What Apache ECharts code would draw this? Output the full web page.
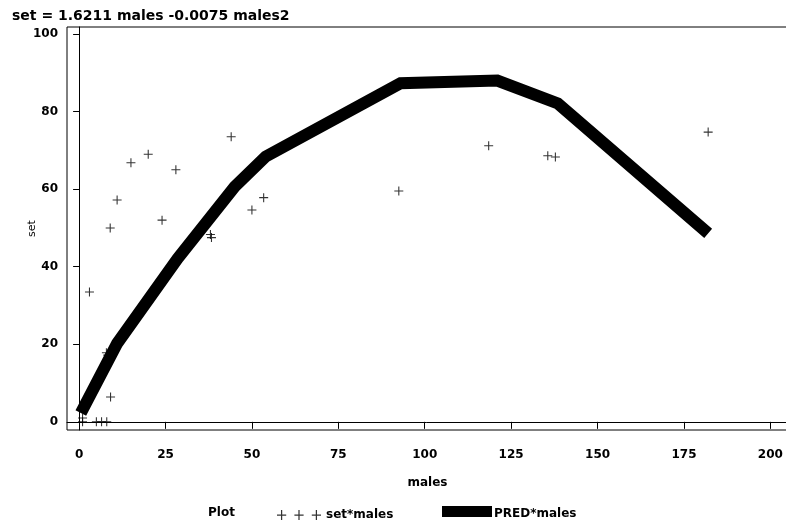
<!DOCTYPE html>
<html>
<head>
<meta charset="utf-8">
<script src="https://cdn.jsdelivr.net/npm/echarts@6/dist/echarts.min.js"></script>
<style>html,body{margin:0;padding:0;background:#fff}#c{width:786px;height:523px}</style>
</head>
<body>
<div id="c"></div>
<script>
// observed data (set vs males)
var malesObs = [1, 1, 5, 6.5, 8, 3, 7.9, 8.3, 9.1, 9, 11, 15, 20, 24, 28, 38, 38.3, 44, 50, 53.4, 92.5, 118.5, 135.6, 137.8, 182];
var setObs   = [1, 0, 0, 0, 0, 33.5, 17.8, 17.2, 6.4, 50, 57.2, 66.8, 69, 52, 65, 48.3, 47.5, 73.5, 54.6, 57.8, 59.5, 71.2, 68.6, 68.3, 74.7];
// predicted line vertices
var malesPred = [0.5, 11, 28.5, 45, 54, 93, 121, 138.5, 182];
var setPred   = [2.3, 20.2, 42.1, 60.6, 68.4, 87.3, 88.0, 82.1, 48.6];
// tick labels
var xTicks = [0, 25, 50, 75, 100, 125, 150, 175, 200];
var yTicks = [0, 20, 40, 60, 80, 100];
var titleText = 'set = 1.6211 males -0.0075 males2';

var FONT = 'DejaVu Sans';
var obs = malesObs.map(function (m, i) { return [m, setObs[i]]; });
var pred = malesPred.map(function (m, i) { return [m, setPred[i]]; });
var plusPath = 'path://M0,4.4h10v1.2h-10z M4.4,0h1.2v10h-1.2z';
var threePlus = 'path://M0,4.4h9v1.2h-9z M3.9,0h1.2v9.9h-1.2z M17,4.4h9v1.2h-9z M20.9,0h1.2v9.9h-1.2z M34,4.4h9v1.2h-9z M37.9,0h1.2v9.9h-1.2z';

var chart = echarts.init(document.getElementById('c'), null, {renderer: 'canvas'});
chart.setOption({
  animation: false,
  backgroundColor: '#fff',
  title: {
    text: titleText, left: 7, top: 4,
    textStyle: {fontFamily: FONT, fontWeight: 'bold', fontSize: 14, color: '#000'}
  },
  grid: {left: 67, top: 27, right: -2, bottom: 93, show: true, borderColor: '#000', borderWidth: 1, outerBoundsMode: 'none'},
  xAxis: {
    type: 'value', min: -3.5, max: 205.1,
    name: 'males', nameLocation: 'middle', nameGap: 47, nameMoveOverlap: false,
    nameTextStyle: {fontFamily: FONT, fontWeight: 'bold', fontSize: 12, color: '#000'},
    axisLine: {show: true, lineStyle: {color: '#000', width: 1}},
    axisTick: {show: true, length: 7, lineStyle: {color: '#000'}, customValues: xTicks},
    axisLabel: {customValues: xTicks, margin: 19, fontFamily: FONT, fontWeight: 'bold', fontSize: 12, color: '#000'},
    splitLine: {show: false}
  },
  yAxis: {
    type: 'value', min: -2.1, max: 101.8,
    name: 'set', nameLocation: 'middle', nameGap: 29, nameRotate: 90, nameMoveOverlap: false,
    nameTextStyle: {fontFamily: FONT, fontSize: 11, color: '#000'},
    axisLine: {show: true, lineStyle: {color: '#000', width: 1}},
    axisTick: {show: true, length: 6, lineStyle: {color: '#000'}, customValues: yTicks},
    axisLabel: {customValues: yTicks, margin: 9, fontFamily: FONT, fontWeight: 'bold', fontSize: 12, color: '#000'},
    splitLine: {show: false}
  },
  legend: [
    {data: [{name: 'set*males', icon: threePlus}], left: 272, top: 504, itemWidth: 44, itemHeight: 11,
     itemGap: 0, textStyle: {fontFamily: FONT, fontWeight: 'bold', fontSize: 12, color: '#000', padding: [2, 0, 0, 0]}},
    {data: [{name: 'PRED*males', icon: 'rect'}], left: 437, top: 501, itemWidth: 50, itemHeight: 11,
     itemGap: 0, formatter: '{p|{name}}',
     textStyle: {fontFamily: FONT, fontWeight: 'bold', fontSize: 12, color: '#000',
       rich: {p: {fontFamily: FONT, fontWeight: 'bold', fontSize: 12, color: '#000', padding: [5, 0, 0, -3]}}}}
  ],
  graphic: [{
    type: 'text', left: 208, top: 507,
    style: {text: 'Plot', font: 'bold 12px "DejaVu Sans"', fill: '#000'}
  }],
  series: [
    {
      name: 'set*males', type: 'scatter', data: obs,
      symbol: plusPath, symbolSize: 9,
      itemStyle: {color: '#000'}
    },
    {
      name: 'PRED*males', type: 'line', data: pred,
      symbol: 'none', showSymbol: false,
      lineStyle: {color: '#000', width: 12, cap: 'butt', join: 'miter'},
      itemStyle: {color: '#000'}
    }
  ]
});
</script>
</body>
</html>
